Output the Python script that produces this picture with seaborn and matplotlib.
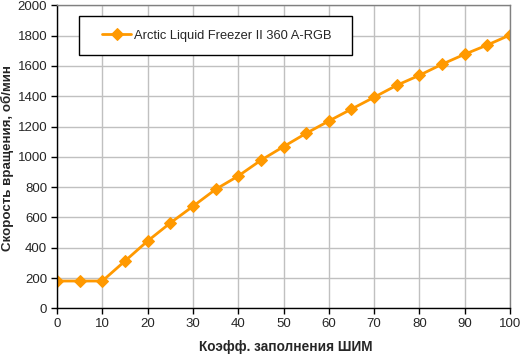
import numpy as np
import pandas as pd
import matplotlib
matplotlib.use('Agg')
import matplotlib.pyplot as plt
from matplotlib.patches import Rectangle
import seaborn as sns

# PWM duty cycle (%) and fan speed (rpm)
duty = [0, 5, 10, 15, 20, 25, 30, 35, 40, 45, 50,
        55, 60, 65, 70, 75, 80, 85, 90, 95, 100]
rpm = [180, 180, 180, 312, 444, 563, 673, 785, 873, 977, 1067,
       1155, 1236, 1315, 1393, 1472, 1538, 1611, 1677, 1738, 1804]
series_name = 'Arctic Liquid Freezer II 360 A-RGB'

df = pd.DataFrame({'duty': duty, 'rpm': rpm, 'name': series_name})

sns.set_style('white')
plt.rcParams['font.family'] = ['Liberation Sans', 'DejaVu Sans']

fig = plt.figure(figsize=(5.2, 3.55), dpi=100)
ax = fig.add_axes([57 / 520, 1 - 308.3 / 355, 453 / 520, 303 / 355])

sns.lineplot(data=df, x='duty', y='rpm', hue='name', palette=['#FF9900'],
             marker='D', markersize=6, markeredgecolor='#FF9900',
             linewidth=2, ax=ax)

ax.set_xlim(0, 100)
ax.set_ylim(0, 2000)
ax.set_xticks(np.arange(0, 101, 10))
ax.set_yticks(np.arange(0, 2001, 200))
ax.grid(True, color='#C0C0C0', linewidth=1)
ax.set_axisbelow(True)
ax.tick_params(axis='both', direction='out', length=4, width=1, color='black',
               labelsize=9.5, pad=3, bottom=True, left=True)
for lbl in ax.get_xticklabels() + ax.get_yticklabels():
    lbl.set_family(['Liberation Sans Narrow', 'Liberation Sans', 'DejaVu Sans'])

for side in ['top', 'right']:
    ax.spines[side].set_color('#808080')
    ax.spines[side].set_linewidth(1)
for side in ['left', 'bottom']:
    ax.spines[side].set_color('black')
    ax.spines[side].set_linewidth(1)

ax.set_xlabel('Коэфф. заполнения ШИМ', fontsize=9.8, fontweight='bold')
ax.xaxis.set_label_coords(0.505, -0.105)
ax.set_ylabel('')
fig.text(1 / 520, 1 - 158 / 355, 'Скорость вращения, об/мин', rotation=90,
         ha='left', va='center', fontsize=9.6, fontweight='bold')

# legend box (frame drawn separately to get the wide side padding)
ax.add_patch(Rectangle((22 / 453, 1 - 49.7 / 303), 273 / 453, 39 / 303,
                       transform=ax.transAxes, facecolor='white',
                       edgecolor='black', linewidth=1, zorder=5))
leg = ax.legend(loc='center left', bbox_to_anchor=(45 / 453, 1 - 30.2 / 303),
                fontsize=9.3, frameon=False, handlelength=2.25,
                handletextpad=0.2, borderpad=0, borderaxespad=0)
leg.set_zorder(6)

fig.savefig('out.png', dpi=100)
